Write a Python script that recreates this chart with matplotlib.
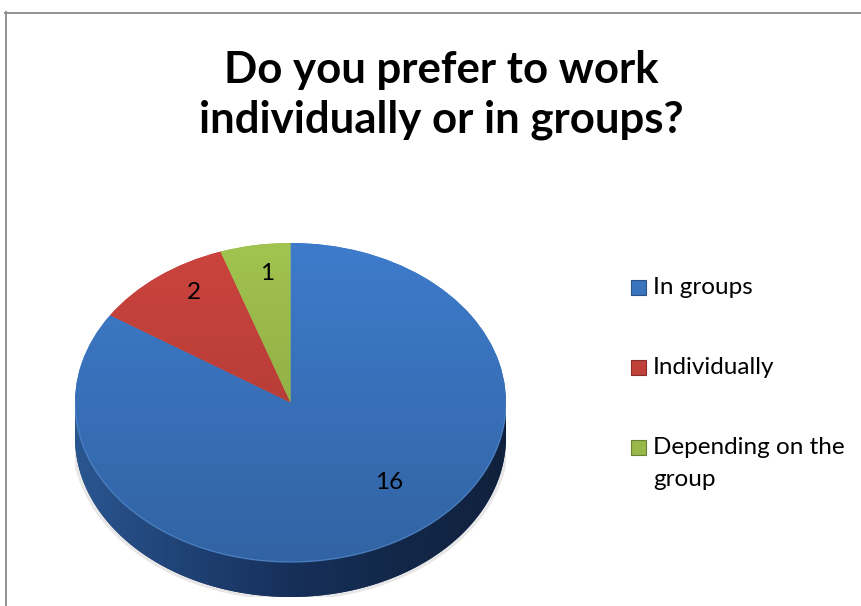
import numpy as np
import matplotlib
matplotlib.use("Agg")
import matplotlib.pyplot as plt
from matplotlib.colors import LinearSegmentedColormap, to_rgb
from matplotlib.patches import PathPatch, Rectangle, Ellipse
from matplotlib.path import Path
from matplotlib.lines import Line2D

plt.rcParams['font.family'] = ['Lato', 'DejaVu Sans']

title = "Do you prefer to work\nindividually or in groups?"
categories = ["In groups", "Individually", "Depending on the\ngroup"]
counts = [16, 2, 1]
colors = ["#3a74bf", "#c0403a", "#98b84a"]

W, H = 861, 606
fig = plt.figure(figsize=(W / 100, H / 100), dpi=100)

# chart frame (left and top edges only are visible)
fig.add_artist(Line2D([5.5 / W, 5.5 / W], [0, 1 - 12 / H], color="#8a8a8a", lw=1.3))
fig.add_artist(Line2D([5 / W, 1], [1 - 12.5 / H, 1 - 12.5 / H], color="#8a8a8a", lw=1.3))

fig.text(441 / W, 1 - 95 / H, title, ha="center", va="center", fontsize=31.5,
         fontweight="bold", linespacing=1.31)

# pie axes: unit circle -> top face ellipse, extra room below for the thickness
left, right, top, bottom = 75, 506, 243, 597
depth = 35 / ((562 - top) / 2)
ax = fig.add_axes([left / W, 1 - bottom / H, (right - left) / W, (bottom - top) / H])

# soft shadow under the pie
ax.add_patch(Ellipse((0, -depth - 0.01), 2.03, 2.02, facecolor="#d8d8d8",
                     edgecolor="none", alpha=0.6, zorder=0))

# side of the pie (thickness)
t = np.linspace(np.pi, 2 * np.pi, 200)
xs = np.concatenate([np.cos(t), np.cos(t[::-1])])
ys = np.concatenate([np.sin(t) - depth, np.sin(t[::-1])])
side = PathPatch(Path(np.column_stack([xs, ys])), facecolor="#17305a", edgecolor="none", zorder=1)
ax.add_patch(side)
side_cmap = LinearSegmentedColormap.from_list(
    "side", ["#2a5690", "#1f4275", "#17305a", "#132849", "#10213d"])
im = ax.imshow(np.linspace(0, 1, 200)[None, :], extent=(-1, 1, -1 - depth, 0),
               cmap=side_cmap, aspect="auto", zorder=1)
im.set_clip_path(side)

wedges, texts, autotexts = ax.pie(
    counts, colors=colors, startangle=90, counterclock=False, radius=1,
    autopct=lambda p: f"{round(p * sum(counts) / 100)}",
    textprops=dict(fontsize=17.5, color="black"), wedgeprops=dict(linewidth=0))

# vertical light-to-dark shading on the top face
for w, c in zip(wedges, colors):
    w.set_zorder(2)
    rgb = np.array(to_rgb(c))
    cmap = LinearSegmentedColormap.from_list("s", [np.clip(rgb * 0.86, 0, 1), np.clip(rgb * 1.06, 0, 1)])
    g = ax.imshow(np.linspace(0, 1, 100)[:, None], extent=(-1, 1, -1, 1), origin="lower",
                  cmap=cmap, aspect="auto", zorder=3)
    g.set_clip_path(w)

rim = Line2D(np.cos(t), np.sin(t), color="#4f84c6", lw=1.0, zorder=4, alpha=0.8)
ax.add_line(rim)

# value labels at Excel-like spots (top face coords)
label_pos = [(0.456, -0.50), (-0.45, 0.69), (-0.107, 0.81)]
for txt, (px, py) in zip(autotexts, label_pos):
    txt.set_position((px, py))
    txt.set_zorder(5)

ax.set_xlim(-1, 1)
ax.set_ylim(-1 - depth, 1)
ax.axis("off")

# legend drawn by hand to keep the square on the first line
leg_y = [287, 367, 447]
for lab, c, y in zip(categories, colors, leg_y):
    fig.add_artist(Rectangle((631 / W, 1 - (y + 7.5) / H), 15 / W, 15 / H,
                             facecolor=c, edgecolor=np.clip(np.array(to_rgb(c)) * 0.7, 0, 1),
                             lw=0.8, transform=fig.transFigure))
    fig.text(653 / W, 1 - (y - 10) / H, lab, ha="left", va="top", fontsize=17.5,
             linespacing=1.62)

fig.savefig("out.png", dpi=100)
